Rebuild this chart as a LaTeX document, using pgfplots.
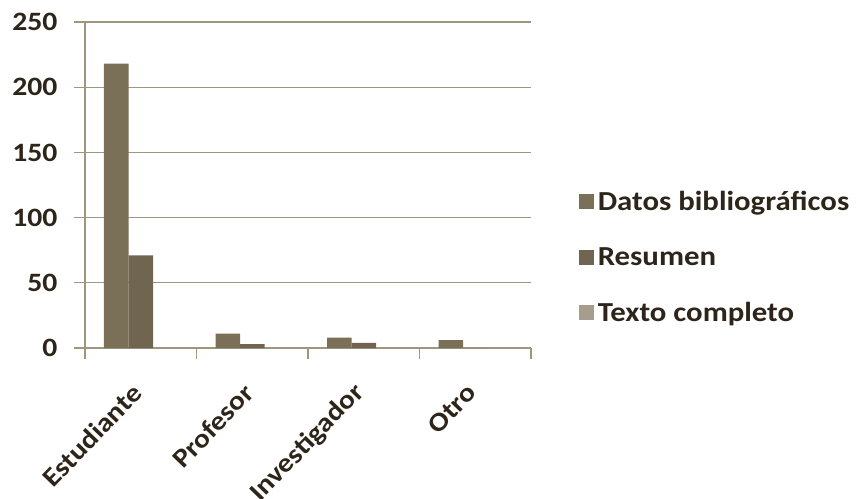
\documentclass[border=0pt]{standalone}
\usepackage{pgfplots}
\pgfplotsset{compat=1.18}
\usetikzlibrary{calc}
\usepackage{fontspec}
\setmainfont{Carlito}[FakeStretch=1.12]
\definecolor{txt}{HTML}{2D2519}
\definecolor{gridc}{HTML}{A0957F}
\definecolor{cA}{HTML}{7A6F57}
\definecolor{cB}{HTML}{6F6550}
\definecolor{cC}{HTML}{A69D8C}
\begin{document}
\begin{tikzpicture}
\begin{axis}[
    name=ax,
    scale only axis,
    width=446pt, height=326pt,
    ybar=0pt, bar width=24.5pt,
    xmin=-0.5, xmax=3.5,
    ymin=0, ymax=250,
    ytick={0,50,100,150,200,250},
    xtick={-0.5,0.5,1.5,2.5,3.5},
    xticklabels={},
    extra x ticks={0,1,2,3},
    extra x tick labels={Estudiante,Profesor,Investigador,Otro},
    extra x tick style={major tick length=0pt,
        xticklabel style={xshift=-1pt, yshift=-38pt, rotate=46, anchor=east}},
    yticklabel style={xshift=-13pt},
    axis x line*=bottom, axis y line*=left,
    axis line style={gridc, line width=1.2pt, -},
    tick style={gridc, line width=1.2pt},
    tick align=outside, major tick length=11pt,
    ymajorgrids=true,
    grid style={gridc, line width=1.2pt},
    /pgf/number format/assume math mode=true,
    tick label style={text=txt, font=\bfseries\fontsize{26.5}{31}\selectfont},
    legend style={draw=none, fill=none, at={(rel axis cs:1.1,0.279)}, anchor=west,
        font=\bfseries\fontsize{27.5}{31}\selectfont, text=txt, row sep=31pt,
        /tikz/every even column/.append style={column sep=0pt}},
    legend cell align=left,
    legend image code/.code={\fill[#1] (0pt,-7.5pt) rectangle (15pt,7.5pt);},
    legend style={nodes={inner xsep=4pt}},
    clip=false,
]
\addplot[fill=cA, draw=none] coordinates {(0,218) (1,11) (2,8) (3,6)};
\addplot[fill=cB, draw=none] coordinates {(0,71) (1,3) (2,4) (3,0)};
\addplot[fill=cC, draw=none] coordinates {(0,0) (1,0) (2,0) (3,0)};
\legend{Datos bibliográficos,Resumen,Texto completo}
\end{axis}
\pgfresetboundingbox
\path ($(ax.south west)+(-85pt,-150pt)$) rectangle ($(ax.north east)+(327pt,22pt)$);
\end{tikzpicture}
\end{document}
